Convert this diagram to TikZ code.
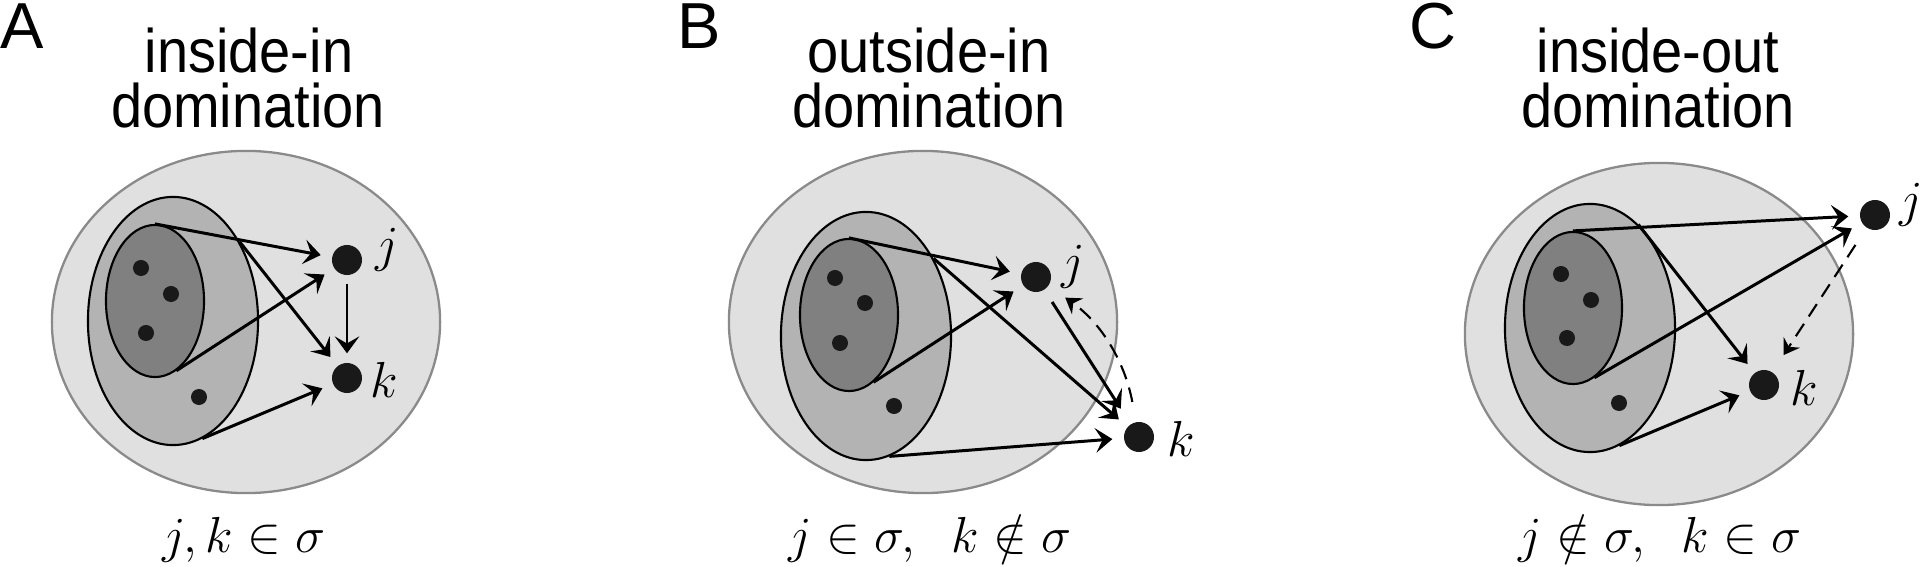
\documentclass[tikz,border=0pt]{standalone}
\usepackage{fontspec}
\newfontfamily\panelfont{Liberation Sans}
\newfontfamily\headfont[FakeStretch=0.91]{Liberation Sans}
\usetikzlibrary{arrows.meta,shapes.geometric}
\definecolor{outfill}{HTML}{E0E0E0}
\definecolor{outline}{HTML}{8A8A8A}
\definecolor{midfill}{HTML}{B3B3B3}
\definecolor{corefill}{HTML}{808080}
\begin{document}
\begin{tikzpicture}[x=0.01cm,y=-0.01cm,
  every node/.style={inner sep=0pt},
  outset/.style={ellipse,draw=outline,fill=outfill,line width=0.65pt,minimum width=3.88cm,minimum height=3.42cm},
  midset/.style={ellipse,draw,fill=midfill,line width=0.6pt,minimum width=1.70cm,minimum height=2.48cm},
  coreset/.style={ellipse,draw,fill=corefill,line width=0.6pt,minimum width=0.98cm,minimum height=1.52cm},
  spot/.style={circle,fill=black!90,minimum size=0.16cm},
  neuron/.style={circle,fill=black!90,minimum size=0.30cm},
  lab/.style={font=\fontsize{13.7}{16}\selectfont,anchor=base},
  heading/.style={font=\headfont\fontsize{17.5}{18}\selectfont,anchor=base},
  letter/.style={font=\panelfont\fontsize{18.5}{20}\selectfont,anchor=base west},
  cond/.style={font=\fontsize{15.5}{18}\selectfont,anchor=base},
  arr/.style={-{Stealth[length=4.8pt,width=7pt,inset=2pt]},line width=0.85pt,shorten >=0.11cm},
  dasharr/.style={-{Stealth[length=4.3pt,width=5.5pt,inset=1.5pt]},line width=0.6pt,dash pattern=on 4.2pt off 2.5pt,shorten <=0.2cm,shorten >=0.2cm}]
\useasboundingbox (0,0) rectangle (1920,567);

% A: inside-in
\node[letter] (A) at (0,49) {A};
\node[heading] (hA1) at (249,73) {inside-in};
\node[heading] (hA2) at (248,128) {domination};
\node[outset] (outA) at (246,322) {};
\node[midset] (midA) at (173,321) {};
\node[coreset] (coreA) at (155,301) {};
\node[spot] (a1) at (141,268) {};
\node[spot] (a2) at (171,294) {};
\node[spot] (a3) at (146,333) {};
\node[spot] (a4) at (199,397) {};
\node[neuron] (jA) at (347,260) {};
\node[neuron] (kA) at (347,378) {};
\node[lab] (jAt) at (387,262) {$j$};
\node[lab] (kAt) at (384,398) {$k$};
\draw[arr] (coreA.90) -- (jA);
\draw[arr] (coreA.-73) -- (jA);
\draw[arr] (midA.50) -- (kA);
\draw[arr] (midA.-76) -- (kA);
\draw[arr,shorten <=0.08cm,shorten >=0.09cm] (jA) -- (kA);
\node[cond] (cA) at (244,553) {$j,k\in\sigma$};

% B: outside-in
\node[letter] (B) at (677,49) {B};
\node[heading] (hB1) at (929,73) {outside-in};
\node[heading] (hB2) at (929,128) {domination};
\node[outset] (outB) at (923,322) {};
\node[midset] (midB) at (866,336) {};
\node[coreset] (coreB) at (849,315) {};
\node[spot] (b1) at (835,278) {};
\node[spot] (b2) at (865,303) {};
\node[spot] (b3) at (840,343) {};
\node[spot] (b4) at (894,406) {};
\node[neuron] (jB) at (1036,277) {};
\node[neuron] (kB) at (1139,437) {};
\node[lab] (jBt) at (1073,279) {$j$};
\node[lab] (kBt) at (1181,457) {$k$};
\draw[arr] (coreB.90) -- (jB);
\draw[arr] (coreB.-70) -- (jB);
\draw[arr] (midB.49) -- (kB);
\draw[arr] (midB.-79) -- (kB);
\draw[arr,shorten <=0.14cm,shorten >=0.18cm] (jB) -- (kB);
\draw[dasharr] (kB) to[bend right=22] (jB);
\node[cond] (cB) at (930,553) {$j\in\sigma,\;\; k\notin\sigma$};

% C: inside-out
\node[letter] (C) at (1409,49) {C};
\node[heading] (hC1) at (1658,73) {inside-out};
\node[heading] (hC2) at (1658,128) {domination};
\node[outset] (outC) at (1659,334) {};
\node[midset] (midC) at (1590,328) {};
\node[coreset] (coreC) at (1573,308) {};
\node[spot] (c1) at (1561,274) {};
\node[spot] (c2) at (1591,300) {};
\node[spot] (c3) at (1567,338) {};
\node[spot] (c4) at (1619,403) {};
\node[neuron] (jC) at (1875,215) {};
\node[neuron] (kC) at (1764,385) {};
\node[lab] (jCt) at (1911,217) {$j$};
\node[lab] (kCt) at (1804,406) {$k$};
\draw[arr] (coreC.90) -- (jC);
\draw[arr] (coreC.-73) -- (jC);
\draw[arr] (midC.65) -- (kC);
\draw[arr] (midC.-76) -- (kC);
\draw[dasharr] (jC) -- (kC);
\node[cond] (cC) at (1660,553) {$j\notin\sigma,\;\; k\in\sigma$};
\end{tikzpicture}
\end{document}
